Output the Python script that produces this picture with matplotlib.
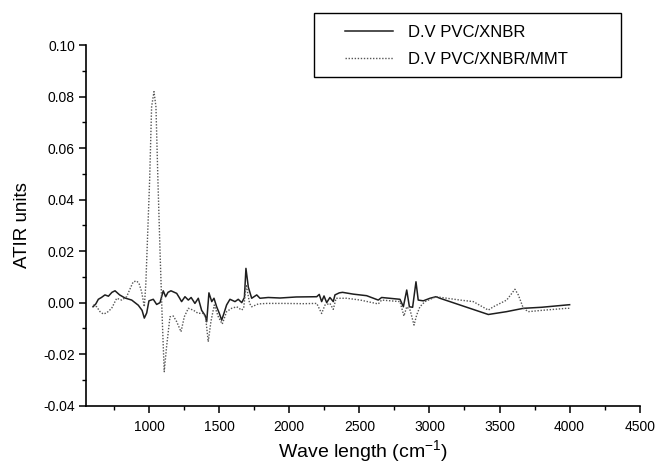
import matplotlib
matplotlib.use('Agg')
from matplotlib import pyplot as plt
from matplotlib import patches as patches
from matplotlib.ticker import MultipleLocator, FormatStrFormatter

plt.rcParams['font.family'] = ['Liberation Sans', 'DejaVu Sans']
plt.rcParams['mathtext.default'] = 'regular'
plt.rcParams['axes.unicode_minus'] = False

# D.V PVC/XNBR (solid)
wave_xnbr = [600, 620, 638, 660, 685, 710, 735, 757, 790, 828,
             876, 923, 950, 966, 983, 999, 1030, 1054, 1078, 1101,
             1118, 1135, 1156, 1197, 1215, 1232, 1256, 1280, 1300, 1327,
             1351, 1375, 1400, 1411, 1427, 1447, 1463, 1482, 1500, 1518,
             1535, 1553, 1577, 1613, 1636, 1661, 1680, 1691, 1708, 1732,
             1768, 1791, 1850, 1934, 2050, 2196, 2214, 2231, 2248, 2267,
             2290, 2314, 2326, 2357, 2380, 2457, 2552, 2635, 2659, 2790,
             2814, 2838, 2857, 2880, 2904, 2920, 2956, 3004, 3047, 3075,
             3250, 3420, 3550, 3670, 3800, 3979, 4000]
atir_xnbr = [-0.0016, -0.0005, 0.0013, 0.002, 0.003, 0.0025, 0.004, 0.0046, 0.003, 0.0018,
             0.001, -0.001, -0.003, -0.006, -0.004, 0.0007, 0.0013, -0.0007, 0.0, 0.0046,
             0.0023, 0.004, 0.0046, 0.0036, 0.002, 0.0004, 0.0023, 0.001, 0.002, -0.0003,
             0.0017, -0.003, -0.005, -0.0074, 0.0038, 0.0004, 0.0017, -0.0016, -0.004, -0.0068,
             -0.004, -0.0009, 0.0013, 0.0004, 0.0013, 0.0, 0.002, 0.0133, 0.006, 0.0017,
             0.003, 0.0017, 0.002, 0.0018, 0.0022, 0.0023, 0.0032, 0.0004, 0.0026, 0.0,
             0.002, 0.0004, 0.003, 0.0038, 0.004, 0.0033, 0.0027, 0.001, 0.002, 0.0013,
             -0.0016, 0.0049, -0.0016, -0.0018, 0.0081, 0.001, 0.0007, 0.0017, 0.0023, 0.0017,
             -0.0015, -0.0046, -0.0035, -0.0022, -0.0018, -0.0009, -0.0008]

# D.V PVC/XNBR/MMT (dotted)
wave_mmt = [600, 626, 650, 673, 697, 733, 769, 805, 840, 871,
            887, 911, 928, 947, 966, 977, 1004, 1018, 1035, 1049,
            1063, 1078, 1093, 1108, 1125, 1149, 1173, 1197, 1228, 1251,
            1280, 1315, 1351, 1380, 1403, 1422, 1441, 1465, 1494, 1522,
            1553, 1589, 1625, 1661, 1675, 1693, 1717, 1732, 1779, 1839,
            1957, 2100, 2196, 2231, 2255, 2290, 2314, 2334, 2410, 2507,
            2635, 2659, 2790, 2818, 2838, 2862, 2890, 2909, 2932, 2968,
            3047, 3218, 3313, 3420, 3456, 3551, 3610, 3634, 3670, 3705,
            3800, 3979, 4000]
atir_mmt = [-0.0009, -0.0016, -0.0035, -0.0044, -0.004, -0.0022, 0.0017, 0.001, 0.0023, 0.0062,
            0.0081, 0.0084, 0.0075, 0.0042, -0.0016, 0.0075, 0.0476, 0.076, 0.0819, 0.076,
            0.0476, 0.02, -0.005, -0.0268, -0.017, -0.0055, -0.0052, -0.0074, -0.0113, -0.0055,
            -0.0022, -0.0029, -0.0042, -0.004, -0.0055, -0.0152, -0.0074, -0.0009, -0.0055, -0.0083,
            -0.0035, -0.0022, -0.0016, -0.0029, -0.002, 0.007, -0.0003, -0.0016, -0.0005, -0.0003,
            -0.0003, -0.0004, -0.0003, -0.0042, -0.0009, -0.0003, -0.0026, 0.0017, 0.0017, 0.001,
            -0.0005, 0.001, 0.0004, -0.0052, -0.0016, -0.0029, -0.0087, -0.0048, -0.0016, 0.0004,
            0.0023, 0.001, 0.0004, -0.0029, -0.0016, 0.001, 0.0052, 0.003, -0.0022, -0.0035,
            -0.003, -0.0022, -0.0022]

labels = ['D.V PVC/XNBR', 'D.V PVC/XNBR/MMT']

W, H = 655, 467
fig = plt.figure(figsize=(W / 100, H / 100), dpi=100)
ax = fig.add_axes([86 / W, 1 - 405.7 / H, (639.7 - 86) / W, (405.7 - 45) / H])

l1, = ax.plot(wave_xnbr, atir_xnbr, color='#1e1e1e', lw=1.1, ls='-')
l2, = ax.plot(wave_mmt, atir_mmt, color='#555555', lw=1.0, ls=(0, (1, 1.2)))

ax.set_xlim(550, 4500)
ax.set_ylim(-0.04, 0.10)
ax.xaxis.set_major_locator(MultipleLocator(500))
ax.xaxis.set_minor_locator(MultipleLocator(250))
ax.yaxis.set_major_locator(MultipleLocator(0.02))
ax.yaxis.set_minor_locator(MultipleLocator(0.01))
ax.yaxis.set_major_formatter(FormatStrFormatter('%.2f'))
ax.set_xticks([1000, 1500, 2000, 2500, 3000, 3500, 4000, 4500])

for s in ['top', 'right']:
    ax.spines[s].set_visible(False)
for s in ['left', 'bottom']:
    ax.spines[s].set_linewidth(1.2)
ax.tick_params(which='major', direction='out', length=5, width=1.1, labelsize=10, pad=3)
ax.tick_params(which='major', axis='x', pad=5)
ax.tick_params(which='minor', direction='out', length=3, width=1.0)

ax.set_xlabel(r'Wave length (cm$^{-1}$)', fontsize=14)
ax.set_ylabel('ATIR units', fontsize=13.5)
ax.xaxis.set_label_coords(0.5, -0.09)
ax.yaxis.set_label_coords(-0.10, 0.5)

# legend box
fig.patches.append(patches.Rectangle((314 / W, 1 - 77 / H), 307 / W, 64 / H,
                                     transform=fig.transFigure, fill=False,
                                     edgecolor='black', linewidth=1.0))
fig.legend([l1, l2], labels, loc='upper left', bbox_to_anchor=(345 / W, 1 - 25 / H),
           frameon=False, fontsize=12, handlelength=2.9, handletextpad=0.85,
           labelspacing=0.72, borderpad=0, borderaxespad=0)

fig.savefig('out.png', dpi=100)
